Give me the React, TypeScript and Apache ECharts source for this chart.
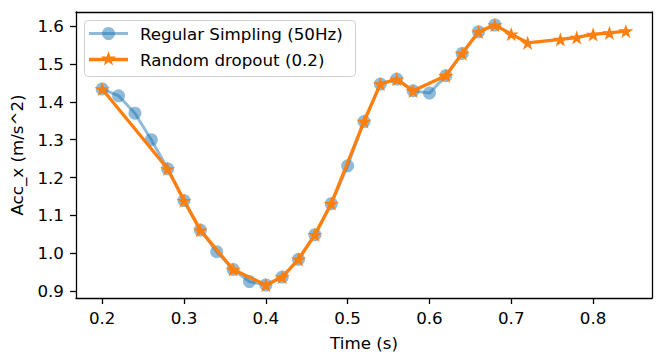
import React, { useEffect, useRef } from "react";
import * as echarts from "echarts";

const regularTimes = [0.2, 0.22, 0.24, 0.26, 0.28, 0.3, 0.32, 0.34, 0.36, 0.38, 0.4, 0.42, 0.44, 0.46, 0.48, 0.5, 0.52, 0.54, 0.56, 0.58, 0.6, 0.62, 0.64, 0.66, 0.68];
const regularValues = [1.434, 1.416, 1.37, 1.3, 1.223, 1.139, 1.061, 1.004, 0.957, 0.925, 0.916, 0.937, 0.984, 1.049, 1.131, 1.231, 1.348, 1.447, 1.46, 1.429, 1.423, 1.469, 1.528, 1.585, 1.603];

const dropoutTimes = [0.2, 0.28, 0.3, 0.32, 0.36, 0.4, 0.42, 0.44, 0.46, 0.48, 0.52, 0.54, 0.56, 0.58, 0.62, 0.64, 0.66, 0.68, 0.7, 0.72, 0.76, 0.78, 0.8, 0.82, 0.84];
const dropoutValues = [1.434, 1.223, 1.139, 1.061, 0.957, 0.916, 0.937, 0.984, 1.049, 1.131, 1.348, 1.447, 1.46, 1.429, 1.469, 1.528, 1.585, 1.603, 1.579, 1.556, 1.565, 1.57, 1.578, 1.582, 1.587];

const xTicks = [0.2, 0.3, 0.4, 0.5, 0.6, 0.7, 0.8];
const yTicks = [0.9, 1.0, 1.1, 1.2, 1.3, 1.4, 1.5, 1.6];

const seriesNames = ["Regular Simpling (50Hz)", "Random dropout (0.2)"];

const STAR = "path://M50,0 L38.77,34.55 L2.45,34.55 L31.84,55.9 L20.61,90.45 L50,69.1 L79.39,90.45 L68.16,55.9 L97.55,34.55 L61.23,34.55 Z";

const FONT = "DejaVu Sans";
const FS = 16.7;
const BLUE = "#1f77b4";
const ORANGE = "#ff7f0e";

function pad(lo: number, hi: number) {
  const m = (hi - lo) * 0.05;
  return [lo - m, hi + m];
}

function starPoints(cx: number, cy: number, R: number) {
  const r = R * 0.382;
  const pts: number[][] = [];
  for (let k = 0; k < 10; k++) {
    const a = (Math.PI / 2) + (k * Math.PI) / 5;
    const rad = k % 2 === 0 ? R : r;
    pts.push([cx + rad * Math.cos(a), cy - rad * Math.sin(a)]);
  }
  return pts;
}

export default function App() {
  const ref = useRef<HTMLDivElement>(null);
  useEffect(() => {
    if (!ref.current) return;
    const chart = echarts.init(ref.current, undefined, { renderer: "svg" });
    const allX = [...regularTimes, ...dropoutTimes];
    const allY = [...regularValues, ...dropoutValues];
    const [xMin, xMax] = pad(Math.min(...allX), Math.max(...allX));
    const [yMin, yMax] = pad(Math.min(...allY), Math.max(...allY));
    const axisLine = { show: true, lineStyle: { color: "#000", width: 1.3 } };
    const textBase = { fontFamily: FONT, fontSize: FS, color: "#000" };

    const lgX = 84, lgY = 20, lgW = 271, lgH = 56;
    const row1 = 33.5, row2 = 59.5;
    const iconL = 89, iconR = 128, iconC = 108.5, textX = 140;

    chart.setOption({
      animation: false,
      backgroundColor: "#fff",
      textStyle: { fontFamily: FONT },
      grid: { left: 76, right: 13, top: 12, bottom: 65, outerBoundsMode: "none", containLabel: false },
      graphic: [
        {
          type: "group",
          z: 100,
          children: [
            {
              type: "rect",
              shape: { x: lgX + 0.5, y: lgY + 0.5, width: lgW, height: lgH, r: 4 },
              style: { fill: "rgba(255,255,255,0.8)", stroke: "#d0d0d0", lineWidth: 1 },
            },
            {
              type: "line",
              shape: { x1: iconL, y1: row1, x2: iconR, y2: row1 },
              style: { stroke: BLUE, lineWidth: 3, opacity: 0.5 },
            },
            {
              type: "circle",
              shape: { cx: iconC, cy: row1, r: 6.5 },
              style: { fill: BLUE, opacity: 0.5 },
            },
            {
              type: "text",
              x: textX,
              y: row1,
              style: { text: seriesNames[0], font: `${FS}px "${FONT}"`, fill: "#000", verticalAlign: "middle", align: "left" },
            },
            {
              type: "line",
              shape: { x1: iconL, y1: row2, x2: iconR, y2: row2 },
              style: { stroke: ORANGE, lineWidth: 3.3 },
            },
            {
              type: "polygon",
              shape: { points: starPoints(iconC, row2 - 0.5, 8) },
              style: { fill: ORANGE },
            },
            {
              type: "text",
              x: textX,
              y: row2,
              style: { text: seriesNames[1], font: `${FS}px "${FONT}"`, fill: "#000", verticalAlign: "middle", align: "left" },
            },
          ],
        },
      ],
      xAxis: [
        {
          type: "value",
          min: xMin,
          max: xMax,
          name: "Time (s)",
          nameLocation: "middle",
          nameGap: 34,
          nameTextStyle: { ...textBase, lineHeight: 20 },
          axisLine,
          splitLine: { show: false },
          axisTick: { show: true, inside: false, length: 6, lineStyle: { color: "#000", width: 1.3 }, customValues: xTicks },
          axisLabel: { ...textBase, margin: 10, lineHeight: 20, customValues: xTicks, formatter: (v: number) => v.toFixed(1) },
        },
        {
          type: "value",
          position: "top",
          min: xMin,
          max: xMax,
          axisLine,
          splitLine: { show: false },
          axisTick: { show: false },
          axisLabel: { show: false },
        },
      ],
      yAxis: [
        {
          type: "value",
          min: yMin,
          max: yMax,
          name: "Acc_x (m/s^2)",
          nameLocation: "middle",
          nameGap: 44,
          nameRotate: 90,
          nameTextStyle: { ...textBase, lineHeight: 20 },
          axisLine,
          splitLine: { show: false },
          axisTick: { show: true, inside: false, length: 6, lineStyle: { color: "#000", width: 1.3 }, customValues: yTicks },
          axisLabel: { ...textBase, margin: 12, customValues: yTicks, formatter: (v: number) => v.toFixed(1) },
        },
        {
          type: "value",
          position: "right",
          min: yMin,
          max: yMax,
          axisLine,
          splitLine: { show: false },
          axisTick: { show: false },
          axisLabel: { show: false },
        },
      ],
      series: [
        {
          name: seriesNames[0],
          type: "line",
          data: regularTimes.map((t, i) => [t, regularValues[i]]),
          symbol: "circle",
          symbolSize: 13,
          showAllSymbol: true,
          color: BLUE,
          lineStyle: { width: 3, color: BLUE, opacity: 0.5 },
          itemStyle: { color: BLUE, opacity: 0.5 },
          z: 2,
        },
        {
          name: seriesNames[1],
          type: "line",
          data: dropoutTimes.map((t, i) => [t, dropoutValues[i]]),
          symbol: STAR,
          symbolSize: 15,
          symbolKeepAspect: true,
          showAllSymbol: true,
          color: ORANGE,
          lineStyle: { width: 3.3, color: ORANGE },
          itemStyle: { color: ORANGE },
          z: 3,
        },
      ],
    });
    return () => chart.dispose();
  }, []);
  return (
    <div
      ref={ref}
      style={{ position: "fixed", left: 0, top: 0, width: 665, height: 363, background: "#fff" }}
    />
  );
}
